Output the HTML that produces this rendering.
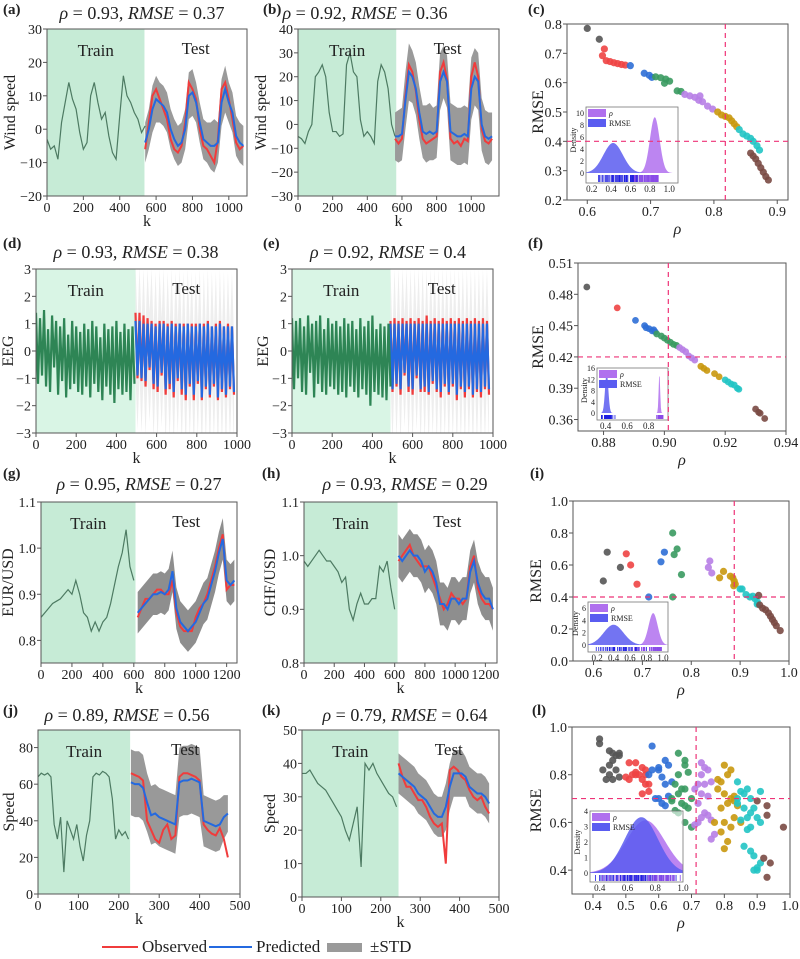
<!DOCTYPE html>
<html><head><meta charset="utf-8">
<style>
html,body{margin:0;padding:0;background:#fff;}
svg, svg text{font-family:"Liberation Serif","DejaVu Serif",serif;}
</style></head>
<body>
<svg id="fig" width="800" height="954" viewBox="0 0 800 954" xmlns="http://www.w3.org/2000/svg" font-family="Liberation Serif, serif"></svg>
<script>
// ===== Panel (a) wind speed =====
const aTrain=[-3,-6,-5,-9,2,8,14,9,6,-1,-6,-4,10,14,8,3,5,-2,-7,-9,4,16,10,8,5,3,-1,1];
const aPred=[-4,0,6,9,8,7,5,0,-3,-5,-4,0,10,11,8,2,-3,-4,-5,-5,-4,8,12,8,5,-2,-4,-5];
const aObs=[-6,2,10,12,9,6,3,-3,-6,-7,-5,2,14,12,9,0,-5,-6,-8,-10,-3,12,14,9,3,-4,-6,-5];
const aStd=[6,6,7,7,6,6,6,6,6,6,6,6,7,7,6,6,6,6,7,8,6,7,7,6,6,6,6,6];
// ===== Panel (b) =====
const bTrain=[-5,-6,-8,-3,0,20,22,25,20,5,-3,-3,-5,-4,25,30,22,20,2,-5,-3,-5,-8,18,25,22,15,0,-5];
const bPred=[-5,-5,-4,10,22,20,15,5,-3,-4,-3,-4,-3,18,22,18,-3,-4,-5,-5,-4,-5,15,20,18,0,-5,-6,-5];
const bObs=[-6,-8,-6,12,25,22,14,2,-6,-8,-7,-6,-5,22,26,19,-6,-8,-7,-9,-6,-7,20,26,20,-2,-7,-8,-6];
const bStd=[10,11,11,12,12,11,11,11,11,12,12,11,11,12,11,11,12,12,12,12,12,12,13,12,12,11,11,11,10];
// ===== Panel (c) scatter =====
const cGrey=[[0.600,0.785],[0.619,0.748]];
const cRed=[[0.627,0.715],[0.624,0.692],[0.630,0.675],[0.636,0.672],[0.642,0.668],[0.648,0.665],[0.654,0.662],[0.660,0.660]];
const cBlue=[[0.668,0.658],[0.690,0.632],[0.698,0.625],[0.702,0.618]];
const cGreen=[[0.708,0.620],[0.716,0.617],[0.724,0.612],[0.730,0.605],[0.722,0.598],[0.742,0.572],[0.748,0.570]];
const cPurple=[[0.754,0.560],[0.762,0.555],[0.770,0.550],[0.778,0.555],[0.776,0.540],[0.782,0.535],[0.790,0.520],[0.798,0.510]];
const cGold=[[0.806,0.500],[0.812,0.490],[0.818,0.485],[0.824,0.480],[0.828,0.470],[0.832,0.460],[0.836,0.450]];
const cCyan=[[0.840,0.440],[0.846,0.425],[0.852,0.418],[0.858,0.410],[0.862,0.400],[0.868,0.385],[0.872,0.370]];
const cBrown=[[0.858,0.360],[0.862,0.350],[0.866,0.340],[0.870,0.325],[0.874,0.310],[0.878,0.295],[0.882,0.280],[0.886,0.268]];
const cDensity=[[0.42,0.10,5.0],[0.85,0.05,9.3]]; // [mean, sd, peak] for RMSE, rho
// ===== Panel (d) EEG =====
const dTrain=[1.4,-1.2,1.2,-0.9,1.5,-1.3,0.8,-1.5,1.3,-0.6,1.1,-1.6,0.9,-1.1,1.2,-1.7,0.6,-1.4,1.1,-1.2,0.9,-1.5,0.7,-1.6,1.0,-1.3,0.8,-1.7,1.1,-1.2,0.9,-1.5,0.5,-1.8,1.0,-1.3,0.8,-1.6,0.9,-1.9,1.1,-1.4,0.7,-1.6,1.0,-1.5,0.8,-1.8,0.9,-1.2];
const dPred=[1.1,-0.9,1.1,-1.0,1.0,-1.1,1.0,-0.6,1.0,-1.2,0.9,-1.3,1.0,-0.8,1.0,-1.4,0.9,-1.2,1.0,-1.5,0.9,-1.0,1.0,-1.4,0.9,-1.6,1.0,-1.2,0.9,-1.6,0.9,-1.1,1.0,-1.7,0.9,-1.3,1.0,-1.6,0.9,-1.2,0.9,-1.7,1.0,-1.4,0.9,-1.6,0.9,-1.3,0.9,-1.5];
const dObs=[1.4,-1.0,1.4,-1.1,1.3,-1.3,1.2,-0.7,1.1,-1.4,1.0,-1.5,1.1,-0.9,1.1,-1.6,1.0,-1.4,1.1,-1.7,1.0,-1.1,1.0,-1.6,1.0,-1.8,1.0,-1.3,1.0,-1.8,1.0,-1.2,1.0,-1.8,1.0,-1.4,1.1,-1.7,0.9,-1.3,1.0,-1.8,1.1,-1.5,0.9,-1.7,1.0,-1.4,0.9,-1.6];
const dStd=[2.0,2.0,2.0,2.0,2.0,2.0,2.0,2.0,2.0,2.0,2.0,2.0,2.0,2.0,2.0,2.0,2.0,2.0,2.0,2.0,2.0,2.0,2.0,2.0,2.0,2.0,2.0,2.0,2.0,2.0,2.0,2.0,2.0,2.0,2.0,2.0,2.0,2.0,2.0,2.0,2.0,2.0,2.0,2.0,2.0,2.0,2.0,2.0,2.0,2.0];
// ===== Panel (e) EEG =====
const eTrain=[1.2,-1.4,1.1,-1.0,1.2,-1.5,0.9,-1.6,1.3,-0.8,1.0,-1.7,1.1,-1.2,1.3,-1.5,0.8,-1.6,1.2,-1.3,1.0,-1.4,1.1,-1.6,0.9,-1.5,1.2,-1.7,1.0,-1.3,1.1,-1.5,0.8,-1.7,1.2,-1.4,0.9,-1.6,1.1,-2.0,1.3,-1.5,0.8,-1.6,1.0,-1.7,0.9,-1.8,1.0,-1.3];
const ePred=[1.0,-1.4,1.0,-1.2,1.0,-1.4,1.0,-0.8,1.0,-1.3,1.0,-1.4,1.0,-0.9,1.0,-1.4,1.0,-1.3,1.0,-1.5,1.0,-1.1,1.0,-1.4,1.0,-1.5,1.0,-1.2,1.0,-1.5,1.0,-1.2,1.0,-1.6,1.0,-1.3,1.0,-1.5,1.0,-1.3,1.0,-1.6,1.0,-1.4,1.0,-1.5,1.0,-1.3,1.0,-1.4];
const eObs=[1.1,-1.5,1.2,-1.3,1.1,-1.6,1.2,-0.9,1.1,-1.5,1.2,-1.6,1.1,-1.0,1.2,-1.5,1.1,-1.5,1.3,-1.6,1.1,-1.2,1.2,-1.5,1.1,-1.7,1.2,-1.3,1.1,-1.6,1.2,-1.3,1.1,-1.8,1.2,-1.4,1.1,-1.7,1.2,-1.4,1.1,-1.7,1.2,-1.5,1.1,-1.7,1.2,-1.4,1.1,-1.6];
const eStd=dStd.slice();
// ===== Panel (f) =====
const fGrey=[[0.8745,0.487]];
const fRed=[[0.8845,0.467]];
const fBlue=[[0.8905,0.455],[0.8935,0.450],[0.894,0.448],[0.895,0.447],[0.896,0.445],[0.8965,0.446],[0.897,0.444]];
const fGreen=[[0.8975,0.442],[0.899,0.440],[0.900,0.438],[0.901,0.436],[0.902,0.434],[0.903,0.432],[0.904,0.431]];
const fPurple=[[0.905,0.429],[0.906,0.427],[0.907,0.425],[0.908,0.421],[0.909,0.419],[0.910,0.417]];
const fGold=[[0.912,0.411],[0.913,0.409],[0.914,0.407],[0.9165,0.404],[0.918,0.401]];
const fCyan=[[0.920,0.398],[0.921,0.396],[0.922,0.394],[0.923,0.393],[0.924,0.390],[0.9245,0.389]];
const fBrown=[[0.930,0.370],[0.931,0.367],[0.9315,0.366],[0.933,0.361]];
const fDensity=[[0.41,0.015,14.5],[0.90,0.007,14]];
// ===== Panel (g) EUR/USD =====
const gTrain=[0.85,0.86,0.87,0.88,0.885,0.89,0.90,0.91,0.90,0.93,0.90,0.86,0.85,0.82,0.84,0.82,0.84,0.85,0.88,0.92,0.96,0.99,1.04,0.96,0.93];
const gPred=[0.86,0.87,0.88,0.89,0.90,0.90,0.905,0.90,0.91,0.95,0.87,0.84,0.83,0.82,0.83,0.84,0.86,0.88,0.89,0.92,0.95,0.99,1.02,0.93,0.92,0.93];
const gObs=[0.85,0.87,0.89,0.89,0.90,0.91,0.91,0.90,0.90,0.93,0.86,0.83,0.82,0.82,0.82,0.85,0.87,0.88,0.90,0.93,0.96,1.00,1.03,0.91,0.92,0.92];
const gStd=[0.045,0.045,0.045,0.045,0.045,0.045,0.045,0.045,0.045,0.045,0.045,0.045,0.045,0.045,0.045,0.045,0.045,0.045,0.045,0.045,0.045,0.045,0.045,0.045,0.045,0.045];
// ===== Panel (h) CHF/USD =====
const hTrain=[0.99,0.98,0.99,1.00,1.01,1.00,0.99,0.99,0.98,0.97,0.95,0.96,0.90,0.88,0.91,0.93,0.91,0.91,0.92,0.92,0.98,0.97,0.99,0.94,0.90];
const hPred=[1.00,0.99,1.00,1.01,1.00,1.00,0.99,0.97,0.98,0.97,0.95,0.91,0.91,0.90,0.92,0.92,0.91,0.92,0.92,0.97,0.99,0.95,0.93,0.92,0.92,0.90];
const hObs=[0.99,1.00,1.01,1.02,1.00,0.99,0.98,0.98,0.98,0.96,0.94,0.92,0.90,0.91,0.93,0.92,0.92,0.91,0.92,0.98,1.00,0.94,0.92,0.91,0.91,0.90];
const hStd=[0.04,0.04,0.04,0.04,0.04,0.04,0.04,0.04,0.04,0.04,0.04,0.04,0.04,0.04,0.04,0.04,0.04,0.04,0.04,0.04,0.04,0.04,0.04,0.04,0.04,0.04];
// ===== Panel (i) =====
const iGrey=[[0.620,0.50],[0.628,0.68],[0.655,0.585]];
const iRed=[[0.667,0.67],[0.676,0.60],[0.689,0.48]];
const iBlue=[[0.713,0.40],[0.738,0.62],[0.745,0.68]];
const iGreen=[[0.762,0.80],[0.771,0.70],[0.765,0.665],[0.780,0.54],[0.762,0.40]];
const iPurple=[[0.838,0.625],[0.835,0.585],[0.842,0.55]];
const iGold=[[0.858,0.52],[0.866,0.56],[0.880,0.53],[0.885,0.52],[0.888,0.50],[0.887,0.47],[0.890,0.48]];
const iCyan=[[0.900,0.45],[0.904,0.45],[0.912,0.415],[0.920,0.40],[0.926,0.405],[0.930,0.39],[0.935,0.37],[0.935,0.355]];
const iBrown=[[0.938,0.41],[0.940,0.35],[0.946,0.33],[0.952,0.32],[0.958,0.30],[0.962,0.28],[0.966,0.26],[0.970,0.24],[0.974,0.22],[0.982,0.19]];
const iDensity=[[0.40,0.12,3.3],[0.88,0.055,5.2]];
// ===== Panel (j) speed =====
const jTrain=[64,66,65,66,64,38,30,42,12,40,35,30,38,26,18,32,40,64,66,65,67,66,64,52,30,35,32,34,30];
const jPred=[61,60,60,58,50,43,44,42,41,40,39,38,61,62,62,63,62,61,40,39,38,37,38,42,44];
const jObs=[66,65,64,62,40,35,30,28,35,38,30,32,64,66,66,65,64,62,38,35,33,32,36,30,20];
const jStd=[18,18,18,18,16,16,16,16,16,16,16,16,19,19,19,19,19,19,14,14,14,14,14,12,10];
// ===== Panel (k) speed =====
const kTrain=[37,37,38,36,34,33,32,30,28,26,24,20,17,22,27,9,40,38,40,37,35,33,31,30,27];
const kPred=[37,36,35,34,33,31,30,29,27,25,24,24,27,33,37,37,37,36,33,32,31,31,30,28];
const kObs=[40,36,33,33,31,29,29,27,24,22,21,22,10,38,39,38,36,35,32,30,29,30,27,25];
const kStd=[6,6,6,6,6,6,6,6,6,6,6,6,7,7,7,7,7,6,6,6,6,6,6,6];
// ===== Panel (l) =====
const lGrey=[[0.42,0.95],[0.42,0.93],[0.43,0.82],[0.44,0.78],[0.45,0.90],[0.46,0.89],[0.47,0.88],[0.46,0.86],[0.45,0.84],[0.47,0.82],[0.46,0.78],[0.48,0.89],[0.48,0.88],[0.48,0.79],[0.45,0.80]];
const lRed=[[0.51,0.85],[0.53,0.85],[0.50,0.79],[0.51,0.78],[0.52,0.80],[0.53,0.81],[0.54,0.80],[0.55,0.83],[0.56,0.82],[0.55,0.78],[0.56,0.76],[0.57,0.73],[0.55,0.72],[0.57,0.76],[0.53,0.80],[0.56,0.80]];
const lBlue=[[0.58,0.92],[0.57,0.80],[0.58,0.82],[0.60,0.83],[0.60,0.82],[0.62,0.86],[0.61,0.79],[0.63,0.84],[0.59,0.70],[0.60,0.70],[0.62,0.76],[0.61,0.68],[0.64,0.77],[0.63,0.71],[0.62,0.67]];
const lGreen=[[0.66,0.89],[0.68,0.86],[0.68,0.84],[0.69,0.81],[0.66,0.80],[0.65,0.76],[0.66,0.72],[0.67,0.74],[0.68,0.74],[0.64,0.69],[0.65,0.65],[0.66,0.64],[0.67,0.68],[0.68,0.67],[0.69,0.66],[0.68,0.60],[0.70,0.58],[0.70,0.70],[0.64,0.70]];
const lPurple=[[0.73,0.85],[0.74,0.83],[0.75,0.82],[0.73,0.80],[0.72,0.76],[0.71,0.74],[0.74,0.76],[0.76,0.77],[0.73,0.72],[0.75,0.71],[0.72,0.68],[0.74,0.64],[0.73,0.62],[0.75,0.63],[0.76,0.61],[0.72,0.60],[0.77,0.55],[0.76,0.53],[0.71,0.59]];
const lGold=[[0.80,0.84],[0.82,0.82],[0.78,0.78],[0.79,0.77],[0.81,0.80],[0.78,0.74],[0.80,0.72],[0.82,0.70],[0.83,0.71],[0.81,0.68],[0.79,0.66],[0.84,0.67],[0.83,0.62],[0.80,0.60],[0.79,0.56],[0.82,0.58],[0.77,0.60],[0.80,0.49],[0.85,0.60],[0.81,0.52],[0.83,0.69]];
const lCyan=[[0.84,0.77],[0.85,0.73],[0.87,0.74],[0.86,0.72],[0.88,0.70],[0.91,0.73],[0.84,0.68],[0.86,0.66],[0.87,0.62],[0.88,0.64],[0.89,0.66],[0.90,0.62],[0.91,0.60],[0.85,0.61],[0.87,0.57],[0.88,0.58],[0.86,0.50],[0.88,0.48],[0.89,0.46],[0.90,0.41],[0.90,0.40],[0.89,0.40],[0.91,0.43],[0.84,0.70]];
const lBrown=[[0.90,0.69],[0.92,0.45],[0.93,0.67],[0.93,0.63],[0.94,0.43],[0.93,0.37],[0.98,0.58]];
const lDensity=[[0.70,0.12,3.6],[0.73,0.14,3.4]];

const NS="http://www.w3.org/2000/svg";
const FONT='"Liberation Serif", "DejaVu Serif", serif';
const svg=document.getElementById('fig');
function mk(tag,attrs,name,parent){
  const e=document.createElementNS(NS,tag);
  for(const k in attrs) e.setAttribute(k,attrs[k]);
  
  
  (parent||svg).appendChild(e);
  return e;
}
function txt(x,y,s,name,opts,parent){
  const o=Object.assign({x:x,y:y,'font-size':14,fill:'#222','text-anchor':'middle','font-family':FONT},opts||{});
  const t=mk('text',o,name,parent); t.textContent=s; return t;
}
let clipId=0;
function fmt(v,d){return (v<0?'\u2212':'')+Math.abs(v).toFixed(d);}

function frameAxes(g,F,xr,yr,xt,yt,xd,yd){
  const X=v=>F.l+(v-xr[0])/(xr[1]-xr[0])*(F.r-F.l);
  const Y=v=>F.b-(v-yr[0])/(yr[1]-yr[0])*(F.b-F.t);
  mk('rect',{x:F.l,y:F.t,width:F.r-F.l,height:F.b-F.t,fill:'none',stroke:'#555','stroke-width':1},'plot-frame',g);
  xt.forEach(v=>{
    mk('line',{x1:X(v),x2:X(v),y1:F.b,y2:F.b+4,stroke:'#555'},'x-tick',g);
    txt(X(v),F.b+16,fmt(v,xd),'x-tick-label',{},g);
  });
  yt.forEach(v=>{
    mk('line',{x1:F.l-4,x2:F.l,y1:Y(v),y2:Y(v),stroke:'#555'},'y-tick',g);
    txt(F.l-5,Y(v)+5,fmt(v,yd),'y-tick-label',{'text-anchor':'end'},g);
  });
  return {X,Y};
}
function title(x,y,rho,rmse,g){
  const t=mk('text',{x:x,y:y,'font-size':18,fill:'#222','text-anchor':'middle','font-family':FONT},'panel-title',g);
  const a=document.createElementNS(NS,'tspan');a.setAttribute('font-style','italic');a.textContent='\u03C1';t.appendChild(a);
  const b=document.createElementNS(NS,'tspan');b.textContent=' = '+rho+', ';t.appendChild(b);
  const c=document.createElementNS(NS,'tspan');c.setAttribute('font-style','italic');c.textContent='RMSE';t.appendChild(c);
  const d=document.createElementNS(NS,'tspan');d.textContent=' = '+rmse;t.appendChild(d);
}
function plabel(x,y,s,g){txt(x,y,s,'panel-label',{'font-weight':'bold','text-anchor':'start','font-size':15},g);}
function ylab(x,y,s,g){txt(x,y,s,'y-axis-title',{transform:`rotate(-90 ${x} ${y})`,'font-size':16},g);}

function ts(p){
  const g=mk('g',{},'panel-'+p.id);
  const F=p.F;
  const X=v=>F.l+(v-p.xr[0])/(p.xr[1]-p.xr[0])*(F.r-F.l);
  const Y=v=>F.b-(v-p.yr[0])/(p.yr[1]-p.yr[0])*(F.b-F.t);
  const cid='clip'+(clipId++);
  const cp=mk('clipPath',{id:cid},'clip',g);
  mk('rect',{x:F.l,y:F.t,width:F.r-F.l,height:F.b-F.t},'clip-rect',cp);
  const inner=mk('g',{'clip-path':`url(#${cid})`},'plot-area',g);
  mk('rect',{x:F.l,y:F.t,width:X(p.trainEnd)-F.l,height:F.b-F.t,fill:p.shade},'train-region',inner);
  const tk=i=>p.testK0+i*p.testStep;
  let up=p.pred.map((v,i)=>X(tk(i))+','+Y(v+p.std[i]));
  let lo=p.pred.map((v,i)=>X(tk(i))+','+Y(v-p.std[i])).reverse();
  mk('polygon',{points:up.concat(lo).join(' '),fill:p.stdColor},'std-band',inner);
  mk('polyline',{points:p.obs.map((v,i)=>X(tk(i))+','+Y(v)).join(' '),fill:'none',stroke:'#f03c3c','stroke-width':p.lw||2},'observed-line',inner);
  mk('polyline',{points:p.pred.map((v,i)=>X(tk(i))+','+Y(v)).join(' '),fill:'none',stroke:'#2469e0','stroke-width':p.lw||2},'predicted-line',inner);
  mk('polyline',{points:p.train.map((v,i)=>X(i*p.trainStep)+','+Y(v)).join(' '),fill:'none',stroke:p.trainColor,'stroke-width':p.tlw||1.2},'train-line',inner);
  txt((F.l+X(p.trainEnd))/2,F.t+27,'Train','train-label',{'font-size':17},g);
  txt((X(p.trainEnd)+F.r)/2,F.t+25,'Test','test-label',{'font-size':17},g);
  frameAxes(g,F,p.xr,p.yr,p.xt,p.yt,0,p.yd);
  txt((F.l+F.r)/2,F.b+30,'k','x-axis-title',{'font-size':16},g);
  ylab(p.ylx,(F.t+F.b)/2,p.ylabel,g);
  title(p.tx,p.ty,p.rho,p.rmse,g);
  plabel(p.lx,p.ly,p.label,g);
}

const COLORS=['#555555','#ee4444','#2f6fd6','#3a9a60','#b77ee6','#c9980e','#22c4c4','#7a4a44'];
function sc(p){
  const g=mk('g',{},'panel-'+p.id);
  const F=p.F;
  const ax=frameAxes(g,F,p.xr,p.yr,p.xt,p.yt,p.xd,p.yd);
  p.groups.forEach((grp,gi)=>{
    grp.forEach(pt=>{
      mk('circle',{cx:ax.X(pt[0]),cy:ax.Y(pt[1]),r:p.r||3.6,fill:COLORS[gi],'fill-opacity':0.9},'scatter-point',g);
    });
  });
  const I=p.I;
  const ig=mk('g',{},'density-inset',g);
  mk('rect',{x:I.l,y:I.t,width:I.r-I.l,height:I.rb-I.t,fill:'#fff','fill-opacity':0.6},'inset-bg',ig);
  const IX=v=>I.l+(v-p.ixr[0])/(p.ixr[1]-p.ixr[0])*(I.r-I.l);
  const IY=v=>I.b-v/p.iymax*(I.b-I.t);
  const dcol=['#5a5cf0','#b070ee'];
  [1,0].forEach(di=>{
    const d=p.dens[di];
    const pts=[IX(p.ixr[0])+','+IY(0)];
    for(let i=0;i<=120;i++){const x=p.ixr[0]+(p.ixr[1]-p.ixr[0])*i/120;pts.push(IX(x)+','+IY(d[2]*Math.exp(-0.5*((x-d[0])/d[1])**2)));}
    pts.push(IX(p.ixr[1])+','+IY(0));
    mk('polygon',{points:pts.join(' '),fill:dcol[di],'fill-opacity':0.85},di?'rho-density':'rmse-density',ig);
  });
  const all=[].concat(...p.groups);
  all.forEach(pt=>{
    mk('line',{x1:IX(pt[0]),x2:IX(pt[0]),y1:I.b+2,y2:I.rb-1,stroke:'#8a4ce8','stroke-width':0.8},'rug-rho',ig);
    mk('line',{x1:IX(pt[1]),x2:IX(pt[1]),y1:I.b+2,y2:I.rb-1,stroke:'#2020e0','stroke-width':0.8},'rug-rmse',ig);
  });
  mk('rect',{x:I.l,y:I.t,width:I.r-I.l,height:I.rb-I.t,fill:'none',stroke:'#777','stroke-width':0.8},'inset-frame',ig);
  p.ixt.forEach(v=>{txt(IX(v),I.rb+9,v.toFixed(1),'inset-x-tick-label',{'font-size':9},ig);});
  p.iyt.forEach(v=>{txt(I.l-2,IY(v)+3,String(v),'inset-y-tick-label',{'font-size':8,'text-anchor':'end'},ig);});
  txt(I.l-10,(I.t+I.b)/2,'Density','inset-y-title',{'font-size':8,transform:`rotate(-90 ${I.l-10} ${(I.t+I.b)/2})`},ig);
  mk('rect',{x:I.l+2,y:I.t+2,width:18,height:8,fill:'#b070ee'},'legend-rho-swatch',ig);
  txt(I.l+23,I.t+9,'\u03C1','legend-rho-label',{'font-size':8,'text-anchor':'start','font-style':'italic'},ig);
  mk('rect',{x:I.l+2,y:I.t+12,width:18,height:8,fill:'#5a5cf0'},'legend-rmse-swatch',ig);
  txt(I.l+23,I.t+19,'RMSE','legend-rmse-label',{'font-size':8,'text-anchor':'start'},ig);
  mk('line',{x1:ax.X(p.vline),x2:ax.X(p.vline),y1:F.t,y2:F.b,stroke:'#ee3377','stroke-width':1.2,'stroke-dasharray':'5,4'},'reference-vline',g);
  mk('line',{x1:F.l,x2:F.r,y1:ax.Y(p.hline),y2:ax.Y(p.hline),stroke:'#ee3377','stroke-width':1.2,'stroke-dasharray':'5,4'},'reference-hline',g);
  txt((F.l+F.r)/2,F.b+34,'\u03C1','x-axis-title',{'font-size':16,'font-style':'italic'},g);
  ylab(p.ylx,(F.t+F.b)/2,'RMSE',g);
  plabel(p.lx,p.ly,p.label,g);
}

const SHADE='#c6ebd6', SHADE2='#d9f5e5', TRC='#4d7a62';
ts({id:'a',F:{l:47,t:29,r:247,b:196},xr:[0,1100],yr:[-20,30],xt:[0,200,400,600,800,1000],yt:[-20,-10,0,10,20,30],yd:0,trainEnd:536,train:aTrain,trainStep:20,testK0:540,testStep:20,obs:aObs,pred:aPred,std:aStd,shade:SHADE,stdColor:'#9a9a9a',trainColor:TRC,ylabel:'Wind speed',ylx:15,tx:142,ty:19,rho:'0.93',rmse:'0.37',label:'(a)',lx:3,ly:14});
ts({id:'b',F:{l:298,t:29,r:499,b:196},xr:[0,1160],yr:[-30,40],xt:[0,200,400,600,800,1000],yt:[-30,-20,-10,0,10,20,30,40],yd:0,trainEnd:567,train:bTrain,trainStep:20,testK0:560,testStep:20,obs:bObs,pred:bPred,std:bStd,shade:SHADE,stdColor:'#9a9a9a',trainColor:TRC,ylabel:'Wind speed',ylx:266,tx:365,ty:19,rho:'0.92',rmse:'0.36',label:'(b)',lx:263,ly:14});
sc({id:'c',F:{l:567,t:24,r:788,b:200},xr:[0.568,0.917],yr:[0.2,0.8],xt:[0.6,0.7,0.8,0.9],yt:[0.2,0.3,0.4,0.5,0.6,0.7,0.8],xd:1,yd:1,groups:[cGrey,cRed,cBlue,cGreen,cPurple,cGold,cCyan,cBrown],
 I:{l:586,t:107,r:678,b:173,rb:183},ixr:[0.14,1.09],iymax:11,ixt:[0.2,0.4,0.6,0.8,1.0],iyt:[0,2,4,6,8,10],dens:cDensity,vline:0.818,hline:0.4,ylx:543,label:'(c)',lx:528,ly:14});
ts({id:'d',F:{l:36,t:269,r:237,b:433},xr:[0,1000],yr:[-3,3],xt:[0,200,400,600,800,1000],yt:[-3,-2,-1,0,1,2,3],yd:0,trainEnd:495,train:dTrain,trainStep:10,testK0:495,testStep:10,obs:dObs,pred:dPred,std:dStd,shade:SHADE2,stdColor:'#eeeeee',trainColor:'#2e8555',lw:2.2,tlw:2.2,ylabel:'EEG',ylx:13,tx:136,ty:258,rho:'0.93',rmse:'0.38',label:'(d)',lx:3,ly:248});
ts({id:'e',F:{l:292,t:269,r:493,b:433},xr:[0,1000],yr:[-3,3],xt:[0,200,400,600,800,1000],yt:[-3,-2,-1,0,1,2,3],yd:0,trainEnd:490,train:eTrain,trainStep:10,testK0:490,testStep:10,obs:eObs,pred:ePred,std:eStd,shade:SHADE2,stdColor:'#eeeeee',trainColor:'#2e8555',lw:2.2,tlw:2.2,ylabel:'EEG',ylx:268,tx:388,ty:258,rho:'0.92',rmse:'0.4',label:'(e)',lx:263,ly:248});
sc({id:'f',F:{l:578,t:263,r:786,b:431},xr:[0.8716,0.94],yr:[0.349,0.51],xt:[0.88,0.90,0.92,0.94],yt:[0.36,0.39,0.42,0.45,0.48,0.51],xd:2,yd:2,groups:[fGrey,fRed,fBlue,fGreen,fPurple,fGold,fCyan,fBrown],
 I:{l:597,t:368,r:668,b:413,rb:420},ixr:[0.32,0.98],iymax:16,ixt:[0.4,0.6,0.8],iyt:[0,4,8,12,16],dens:fDensity,vline:0.9013,hline:0.42,ylx:543,label:'(f)',lx:528,ly:248,r:3.4});
ts({id:'g',F:{l:41,t:502,r:237,b:663},xr:[0,1267],yr:[0.751,1.1],xt:[0,200,400,600,800,1000,1200],yt:[0.8,0.9,1.0,1.1],yd:1,trainEnd:611,train:gTrain,trainStep:25,testK0:625,testStep:25,obs:gObs,pred:gPred,std:gStd,shade:SHADE,stdColor:'#8e8e8e',trainColor:TRC,ylabel:'EUR/USD',ylx:13,tx:139,ty:490,rho:'0.95',rmse:'0.27',label:'(g)',lx:3,ly:478});
ts({id:'h',F:{l:304,t:502,r:497,b:663},xr:[0,1277],yr:[0.8,1.1],xt:[0,200,400,600,800,1000,1200],yt:[0.8,0.9,1.0,1.1],yd:1,trainEnd:619,train:hTrain,trainStep:25,testK0:625,testStep:25,obs:hObs,pred:hPred,std:hStd,shade:SHADE,stdColor:'#8e8e8e',trainColor:TRC,ylabel:'CHF/USD',ylx:275,tx:405,ty:490,rho:'0.93',rmse:'0.29',label:'(h)',lx:262,ly:478});
sc({id:'i',F:{l:573,t:501,r:789,b:661},xr:[0.558,1.0],yr:[0,1],xt:[0.6,0.7,0.8,0.9,1.0],yt:[0,0.2,0.4,0.6,0.8,1.0],xd:1,yd:1,groups:[iGrey,iRed,iBlue,iGreen,iPurple,iGold,iCyan,iBrown],
 I:{l:588,t:602,r:668,b:645,rb:652},ixr:[0.09,1.06],iymax:7,ixt:[0.2,0.4,0.6,0.8,1.0],iyt:[0,2,4,6],dens:iDensity,vline:0.888,hline:0.4,ylx:541,label:'(i)',lx:530,ly:478});
ts({id:'j',F:{l:38,t:730,r:240,b:894},xr:[0,500],yr:[0,89.6],xt:[0,100,200,300,400,500],yt:[0,20,40,60,80],yd:0,trainEnd:228,train:jTrain,trainStep:8,testK0:230,testStep:10,obs:jObs,pred:jPred,std:jStd,shade:SHADE,stdColor:'#999999',trainColor:TRC,ylabel:'Speed',ylx:14,tx:127,ty:721,rho:'0.89',rmse:'0.56',label:'(j)',lx:3,ly:715});
ts({id:'k',F:{l:302,t:730,r:499,b:897},xr:[0,500],yr:[0,50],xt:[0,100,200,300,400,500],yt:[0,10,20,30,40,50],yd:0,trainEnd:245,train:kTrain,trainStep:10,testK0:245,testStep:10,obs:kObs,pred:kPred,std:kStd,shade:SHADE,stdColor:'#999999',trainColor:TRC,ylabel:'Speed',ylx:275,tx:405,ty:721,rho:'0.79',rmse:'0.64',label:'(k)',lx:262,ly:715});
sc({id:'l',F:{l:572,t:727,r:790,b:894},xr:[0.336,1.0],yr:[0.3,1.0],xt:[0.4,0.5,0.6,0.7,0.8,0.9,1.0],yt:[0.4,0.6,0.8,1.0],xd:1,yd:1,groups:[lGrey,lRed,lBlue,lGreen,lPurple,lGold,lCyan,lBrown],
 I:{l:590,t:811,r:683,b:873,rb:882},ixr:[0.33,1.0],iymax:4,ixt:[0.4,0.6,0.8,1.0],iyt:[0,1,2,3,4],dens:lDensity,vline:0.714,hline:0.7,ylx:541,label:'(l)',lx:532,ly:715});

const lg=mk('g',{},'legend');
mk('line',{x1:102,x2:138,y1:947,y2:947,stroke:'#f03c3c','stroke-width':2},'legend-observed-line',lg);
txt(142,952,'Observed','legend-observed-label',{'font-size':17,'text-anchor':'start'},lg);
mk('line',{x1:209,x2:252,y1:947,y2:947,stroke:'#2469e0','stroke-width':2},'legend-predicted-line',lg);
txt(256,952,'Predicted','legend-predicted-label',{'font-size':17,'text-anchor':'start'},lg);
mk('rect',{x:327,y:943,width:35,height:9,fill:'#9a9a9a'},'legend-std-swatch',lg);
txt(370,952,'\u00B1STD','legend-std-label',{'font-size':17,'text-anchor':'start'},lg);
</script>
</body></html>
